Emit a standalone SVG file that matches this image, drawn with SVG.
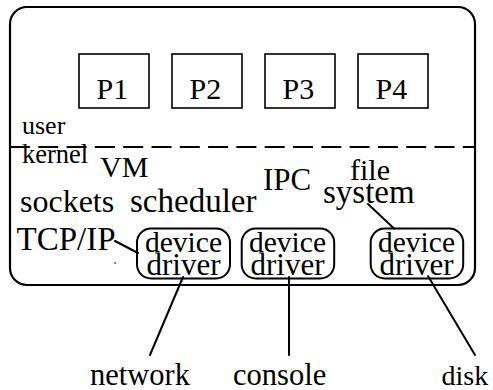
<svg xmlns="http://www.w3.org/2000/svg" width="493" height="390" viewBox="0 0 493 390">
  <rect width="493" height="390" fill="#fff"/>

  <!-- machine outline with user/kernel split -->
  <g id="machine">
    <rect x="10" y="7" width="465" height="278" rx="17" ry="17" fill="none" stroke="#000" stroke-width="2.2"/>
    <line x1="10" y1="147" x2="475" y2="147" stroke="#000" stroke-width="2" stroke-dasharray="20 8.3"/>
    <text x="22" y="134" font-family="Liberation Serif" font-size="26">user</text>
    <text x="22" y="163" font-family="Liberation Serif" font-size="26.5">kernel</text>
  </g>

  <!-- user processes -->
  <g fill="#fff" stroke="#000" stroke-width="1.6">
    <g id="p1"><rect x="79" y="54" width="70" height="54"/><text x="96.5" y="99" fill="#000" stroke="none" font-family="Liberation Serif" font-size="30">P1</text></g>
    <g id="p2"><rect x="172" y="54" width="70" height="54"/><text x="189.5" y="99" fill="#000" stroke="none" font-family="Liberation Serif" font-size="30">P2</text></g>
    <g id="p3"><rect x="265" y="54" width="70" height="54"/><text x="282.5" y="99" fill="#000" stroke="none" font-family="Liberation Serif" font-size="30">P3</text></g>
    <g id="p4"><rect x="358" y="54" width="70" height="54"/><text x="375.5" y="99" fill="#000" stroke="none" font-family="Liberation Serif" font-size="30">P4</text></g>
  </g>

  <!-- kernel services -->
  <g id="vm"><text x="100" y="177" font-family="Liberation Serif" font-size="30">VM</text></g>
  <g id="sockets"><text x="20" y="212" font-family="Liberation Serif" font-size="32">sockets</text></g>
  <g id="scheduler"><text x="130" y="212" font-family="Liberation Serif" font-size="33">scheduler</text></g>
  <g id="tcpip"><text x="16.5" y="250" font-family="Liberation Serif" font-size="33">TCP/IP</text></g>
  <g id="ipc"><text x="263" y="190" font-family="Liberation Serif" font-size="31">IPC</text></g>
  <g id="filesystem">
    <text x="350" y="180" font-family="Liberation Serif" font-size="30">file</text>
    <text x="323" y="203" font-family="Liberation Serif" font-size="33">system</text>
  </g>

  <!-- device drivers -->
  <g fill="#fff" stroke="#000" stroke-width="2">
    <g id="driver-net">
      <rect x="137" y="228.5" width="93" height="50" rx="14"/>
      <text x="183.5" y="252" text-anchor="middle" fill="#000" stroke="none" font-family="Liberation Serif" font-size="29.5">device</text>
      <text x="183.5" y="275" text-anchor="middle" fill="#000" stroke="none" font-family="Liberation Serif" font-size="31">driver</text>
    </g>
    <g id="driver-console">
      <rect x="241.7" y="228.5" width="92.5" height="50" rx="14"/>
      <text x="287.5" y="252" text-anchor="middle" fill="#000" stroke="none" font-family="Liberation Serif" font-size="29.5">device</text>
      <text x="287.5" y="275" text-anchor="middle" fill="#000" stroke="none" font-family="Liberation Serif" font-size="31">driver</text>
    </g>
    <g id="driver-disk">
      <rect x="370.7" y="228.5" width="92.5" height="50" rx="14"/>
      <text x="416.5" y="252" text-anchor="middle" fill="#000" stroke="none" font-family="Liberation Serif" font-size="29.5">device</text>
      <text x="416.5" y="275" text-anchor="middle" fill="#000" stroke="none" font-family="Liberation Serif" font-size="31">driver</text>
    </g>
  </g>

  <!-- hardware devices -->
  <g id="network"><text x="90" y="385" font-family="Liberation Serif" font-size="30.5">network</text></g>
  <g id="console"><text x="233" y="385" font-family="Liberation Serif" font-size="30.5">console</text></g>
  <g id="disk"><text x="441.5" y="385" font-family="Liberation Serif" font-size="28">disk</text></g>

  <!-- connectors -->
  <g id="connectors" stroke="#000" stroke-width="2" fill="none" stroke-linecap="round">
    <line x1="115" y1="241" x2="138" y2="253"/>
    <line x1="368" y1="204" x2="394" y2="228.5"/>
    <line x1="183" y1="277" x2="150" y2="355"/>
    <line x1="289" y1="277" x2="289" y2="355"/>
    <line x1="428" y1="276" x2="475" y2="355"/>
  </g>

  <!-- stray mark -->
  <rect x="114.5" y="262" width="1.2" height="2" fill="#333"/>
</svg>
